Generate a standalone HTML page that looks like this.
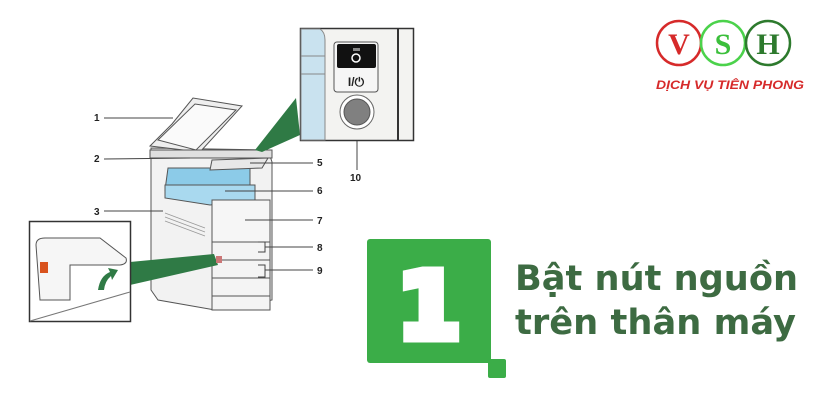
<!DOCTYPE html>
<html><head><meta charset="utf-8"><style>
html,body{margin:0;padding:0;background:#fff;}
svg{display:block}
</style></head><body>
<svg width="825" height="404" viewBox="0 0 825 404" xmlns="http://www.w3.org/2000/svg" font-family="Liberation Sans, sans-serif">
<rect width="825" height="404" fill="#fff"/>
<!-- machine -->
<g stroke="#555" stroke-width="1" fill="#f2f2f2">
<polygon points="151,148 268,150 272,162 272,300 215,310 158,300 151,290"/>
<polygon points="150,146 172,124 193,98 242,106 200,152" fill="#eee"/>
<polygon points="158,140 195,104 236,110 196,150" fill="#fafafa"/>
<rect x="150" y="150" width="122" height="8" fill="#e0e0e0"/>
<polygon points="168,168 250,168 250,190 165,190" fill="#8ccbe8"/>
<polygon points="165,185 255,185 255,200 210,205 165,198" fill="#a9d9ef"/>
<polygon points="212,160 268,158 262,168 210,170" fill="#e8e8e8"/>
<rect x="212" y="200" width="58" height="42" fill="#f6f6f6"/>
<rect x="212" y="242" width="58" height="18" fill="#f4f4f4"/>
<rect x="212" y="260" width="58" height="18" fill="#f4f4f4"/>
<rect x="212" y="278" width="58" height="18" fill="#f4f4f4"/>
<rect x="212" y="296" width="58" height="14" fill="#f4f4f4"/>
</g>
<g stroke="#999" stroke-width="0.8">
<line x1="165" y1="213" x2="205" y2="228"/><line x1="165" y1="217" x2="205" y2="232"/><line x1="165" y1="221" x2="205" y2="236"/>
</g>
<!-- beams -->
<polygon points="296,98 300,135 262,152 255,150" fill="#2f7a45"/>
<polygon points="130,262 130,285 218,265 214,254" fill="#2f7a45"/>
<rect x="216" y="256" width="6" height="7" fill="#c77" />
<!-- labels -->
<g font-size="10" font-weight="bold" fill="#222">
<text x="94" y="121">1</text><text x="94" y="162">2</text><text x="94" y="215">3</text>
<text x="86" y="317">4</text><text x="317" y="166">5</text><text x="317" y="194">6</text>
<text x="317" y="224">7</text><text x="317" y="251">8</text><text x="317" y="274">9</text>
<text x="350" y="181">10</text>
</g>
<g stroke="#444" stroke-width="1" fill="none">
<line x1="104" y1="118" x2="173" y2="118"/><line x1="104" y1="159" x2="190" y2="158"/>
<line x1="104" y1="211" x2="163" y2="211"/><line x1="250" y1="163" x2="313" y2="163"/>
<line x1="225" y1="191" x2="313" y2="191"/><line x1="245" y1="220" x2="313" y2="220"/>
<polyline points="258,242 265,242 265,252 258,252"/><line x1="265" y1="247" x2="313" y2="247"/>
<polyline points="258,265 265,265 265,277 258,277"/><line x1="265" y1="270" x2="313" y2="270"/>
<line x1="357" y1="128" x2="357" y2="170"/>
<polyline points="47,293 47,313 83,313"/>
</g>
<!-- top inset -->
<rect x="300.5" y="28.5" width="113" height="112" fill="#f3f3f1" stroke="#333" stroke-width="1.5"/>
<path d="M301,29 H320 Q325,32 325,40 V140 H301 Z" fill="#c9e2ef" stroke="#888"/>
<rect x="301" y="56" width="24" height="18" fill="#c9e2ef" stroke="#888"/>
<line x1="398" y1="29" x2="398" y2="140" stroke="#333" stroke-width="2"/>
<rect x="334" y="42" width="44" height="50" rx="3" fill="#f6f6f6" stroke="#555"/>
<rect x="337" y="44" width="39" height="24" rx="2" fill="#111"/>
<rect x="353" y="48" width="7" height="3" fill="#888"/>
<circle cx="356" cy="58" r="4" fill="none" stroke="#fff" stroke-width="1.5"/>
<text x="356" y="86" font-size="12" font-weight="bold" text-anchor="middle" fill="#222">I/⏻</text>
<circle cx="357" cy="112" r="17" fill="#fff" stroke="#666"/>
<circle cx="357" cy="112" r="13" fill="#808080" stroke="#555"/>
<!-- bottom-left inset -->
<rect x="29.5" y="221.5" width="101" height="100" fill="#fff" stroke="#333" stroke-width="1.5"/>
<path d="M36,245 Q36,238 45,238 H100 L126,258 Q128,264 120,265 H70 V300 H40 Z" fill="#f6f6f6" stroke="#555"/>
<line x1="30" y1="321" x2="130" y2="292" stroke="#777"/>
<rect x="40" y="262" width="8" height="11" fill="#d9531e"/>
<path d="M98,290 Q100,276 110,272 L108,268 L118,270 L112,280 L111,276 Q105,281 104,290 Z" fill="#2f7a45"/>
<!-- green block -->
<rect x="367" y="239" width="124" height="124" rx="3" fill="#3bad48"/>
<rect x="488" y="359" width="18" height="19" rx="2" fill="#3bad48"/>
<text x="429" y="338" font-family="DejaVu Sans, sans-serif" font-weight="bold" font-size="92" fill="#fff" stroke="#fff" stroke-width="9" stroke-linejoin="miter" text-anchor="middle">1</text>
<text x="515" y="290" font-family="DejaVu Sans, sans-serif" font-weight="bold" font-size="35" fill="#3d6b42" textLength="283" lengthAdjust="spacingAndGlyphs">Bật nút nguồn</text>
<text x="515" y="334" font-family="DejaVu Sans, sans-serif" font-weight="bold" font-size="35" fill="#3d6b42" textLength="281" lengthAdjust="spacingAndGlyphs">trên thân máy</text>
<!-- logo -->
<circle cx="679" cy="43" r="22" fill="#fff" stroke="#d62a2a" stroke-width="2.5"/>
<circle cx="723" cy="43" r="22" fill="none" stroke="#4bd24b" stroke-width="2.5"/>
<circle cx="768" cy="43" r="22" fill="#fff" stroke="#2d7a2d" stroke-width="2.5"/>
<text x="679" y="54" font-family="Liberation Serif, serif" font-weight="bold" font-size="30" fill="#d62a2a" text-anchor="middle">V</text>
<text x="723" y="54" font-family="Liberation Serif, serif" font-weight="bold" font-size="30" fill="#3bbf3b" text-anchor="middle">S</text>
<text x="768" y="54" font-family="Liberation Serif, serif" font-weight="bold" font-size="30" fill="#2d7a2d" text-anchor="middle">H</text>
<text x="656" y="89" font-weight="bold" font-style="italic" font-size="12" fill="#d62a2a" textLength="148" lengthAdjust="spacingAndGlyphs">DỊCH VỤ TIÊN PHONG</text>
</svg>
</body></html>
